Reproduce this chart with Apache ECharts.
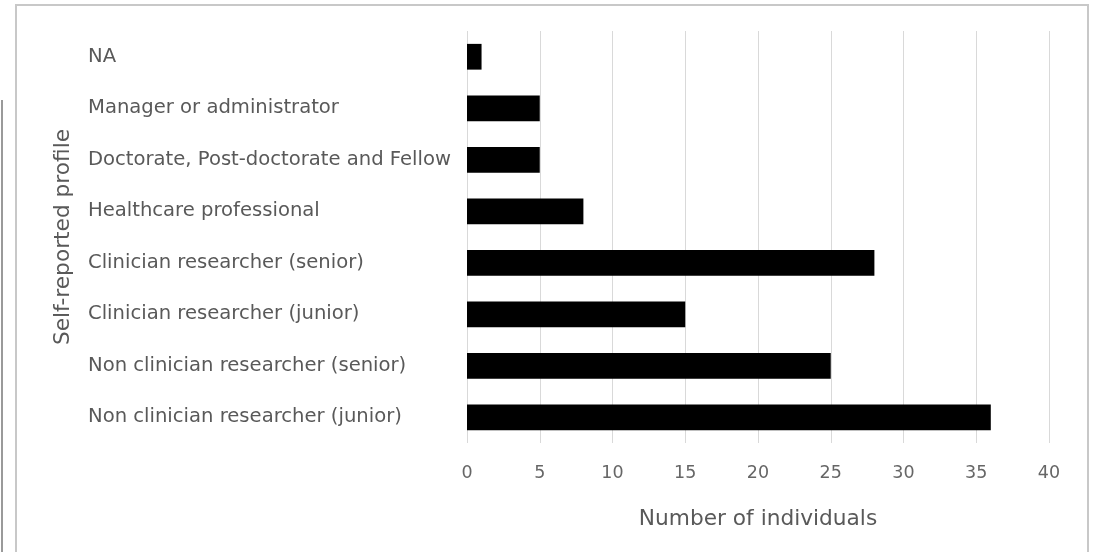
<!DOCTYPE html>
<html><head><meta charset="utf-8">
<script src="https://cdn.jsdelivr.net/npm/echarts@6/dist/echarts.min.js"></script>
<style>html,body{margin:0;padding:0;background:#fff;}#c{width:1096px;height:552px;}</style>
</head><body><div id="c"></div>
<script>
const categories = ["Non clinician researcher (junior)","Non clinician researcher (senior)","Clinician researcher (junior)","Clinician researcher (senior)","Healthcare professional","Doctorate, Post-doctorate and Fellow","Manager or administrator","NA"];
const values = [36,25,15,28,8,5,5,1];
const xTicks = [0,5,10,15,20,25,30,35,40];
const chart = echarts.init(document.getElementById('c'));
const font = "'DejaVu Sans', sans-serif";
chart.setOption({
  animation:false,
  graphic:[
    {type:'rect',shape:{x:16,y:5,width:1072,height:560},style:{fill:'none',stroke:'#c8c8c8',lineWidth:2},z:-1},
    {type:'line',shape:{x1:2,y1:100,x2:2,y2:552},style:{stroke:'#9a9a9a',lineWidth:2}}
  ],
  grid:{left:467,right:47,top:31,bottom:109,containLabel:false},
  xAxis:{type:'value',min:0,max:40,interval:5,
    name:'Number of individuals',nameLocation:'middle',nameGap:65,
    nameTextStyle:{color:'#595959',fontSize:21.7,fontFamily:font},
    axisLine:{show:false},axisTick:{show:false},
    axisLabel:{color:'#666666',fontSize:17.5,fontFamily:font,margin:21,formatter:v=>xTicks.includes(v)?String(v):''},
    splitLine:{lineStyle:{color:'#d9d9d9',width:1}}},
  yAxis:{type:'category',data:categories,
    name:'Self-reported profile',nameLocation:'middle',nameGap:393,nameRotate:90,
    nameTextStyle:{color:'#595959',fontSize:21.7,fontFamily:font},
    axisLine:{show:false},axisTick:{show:false},
    axisLabel:{color:'#595959',fontSize:19.6,fontFamily:font,align:'left',margin:379}},
  series:[{type:'bar',data:values,barWidth:'50%',itemStyle:{color:'#000'}}]
});
</script></body></html>
